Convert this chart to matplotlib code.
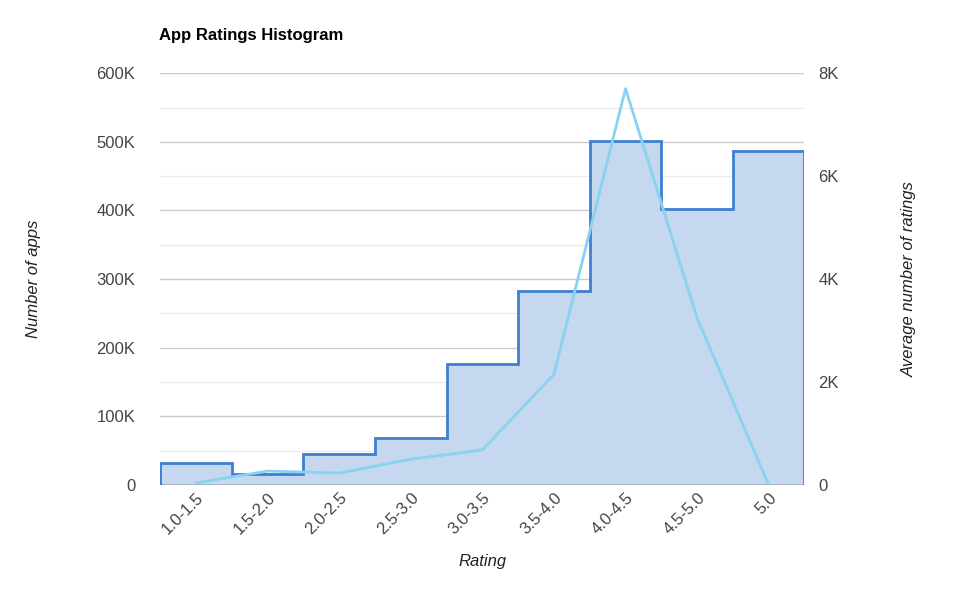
import matplotlib.pyplot as plt
import numpy as np

categories = ["1.0-1.5", "1.5-2.0", "2.0-2.5", "2.5-3.0", "3.0-3.5", "3.5-4.0", "4.0-4.5", "4.5-5.0", "5.0"]
num_apps = [32000, 16000, 45000, 68000, 176000, 282000, 501000, 402000, 486000]
avg_ratings = [40, 270, 230, 500, 680, 2150, 7700, 3240, 0]

plt.rcParams['font.family'] = 'Liberation Sans'
fig = plt.figure(figsize=(9.6, 6.1), dpi=100)
ax = fig.add_axes([0.167, 0.205, 0.671, 0.675])

edges = np.arange(len(categories) + 1)
ax.stairs(num_apps, edges, fill=True, color="#c5d8ef", zorder=2)
ax.stairs(num_apps, edges, color="#3f7fcf", linewidth=2, zorder=3)

ax.set_xlim(0, len(categories))
ax.set_ylim(0, 600000)
ax.set_yticks(np.arange(0, 600001, 100000))
ax.set_yticklabels(["0"] + ["%dK" % (v // 1000) for v in range(100000, 600001, 100000)])
ax.set_yticks(np.arange(50000, 600000, 100000), minor=True)
ax.grid(axis='y', which='major', color="#cccccc", linewidth=1, zorder=0)
ax.grid(axis='y', which='minor', color="#ebebeb", linewidth=1, zorder=0)
ax.tick_params(axis='y', which='both', length=0, labelsize=12, colors="#444444", pad=18)
ax.set_xticks(edges[:-1] + 0.5)
ax.set_xticklabels(categories, rotation=45, ha='right', rotation_mode='anchor')
ax.tick_params(axis='x', length=0, labelsize=12, colors="#444444")
for s in ax.spines.values():
    s.set_visible(False)
ax.axhline(0, color="#333333", linewidth=1, zorder=4)
ax.set_axisbelow(True)

ax2 = ax.twinx()
ax2.plot(edges[:-1] + 0.5, avg_ratings, color="#87d3f2", linewidth=2, zorder=5)
ax2.set_ylim(0, 8000)
ax2.set_yticks(np.arange(0, 8001, 2000))
ax2.set_yticklabels(["0", "2K", "4K", "6K", "8K"])
ax2.tick_params(axis='y', length=0, labelsize=12, colors="#444444", pad=10)
for s in ax2.spines.values():
    s.set_visible(False)

ax.set_ylabel("Number of apps", fontsize=12, style='italic', color="#222222", labelpad=40)
ax2.set_ylabel("Average number of ratings", fontsize=12, style='italic', color="#222222", labelpad=45)
ax.set_xlabel("Rating", fontsize=12, style='italic', color="#222222", labelpad=12)
fig.text(0.166, 0.935, "App Ratings Histogram", fontsize=12, fontweight='bold')

fig.savefig("out.png")
